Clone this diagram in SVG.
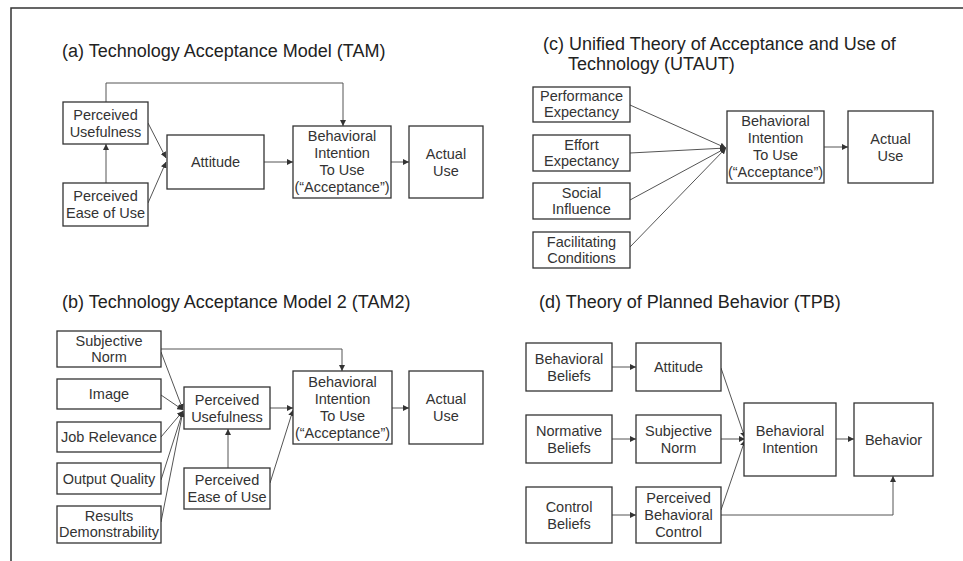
<svg xmlns="http://www.w3.org/2000/svg" width="963" height="561" viewBox="0 0 963 561">
<defs>
<style>
.bg{fill:#fff}
.frame{fill:none;stroke:#333;stroke-width:1.5}
.box{fill:#fff;stroke:#333;stroke-width:1.3}
.t{font-family:"Liberation Sans",Arial,sans-serif;font-size:14.5px;fill:#333;text-anchor:middle}
.title{font-family:"Liberation Sans",Arial,sans-serif;font-size:18px;fill:#222}
.c{fill:none;stroke:#555;stroke-width:1}
.a{marker-end:url(#arr)}
</style>
<marker id="arr" markerUnits="userSpaceOnUse" markerWidth="7" markerHeight="6" refX="6" refY="3" orient="auto">
<path d="M0,0 L6,3 L0,6 z" fill="#333"/>
</marker>
</defs>
<rect class="bg" x="0" y="0" width="963" height="561"/>
<path class="frame" d="M11,561 L11,8 L963,8"/>

<text class="title" x="62" y="57">(a) Technology Acceptance Model (TAM)</text>
<text class="title" x="543" y="50">(c) Unified Theory of Acceptance and Use of</text>
<text class="title" x="568" y="70">Technology (UTAUT)</text>
<text class="title" x="62" y="308">(b) Technology Acceptance Model 2 (TAM2)</text>
<text class="title" x="539" y="308">(d) Theory of Planned Behavior (TPB)</text>

<g id="connectors">
<!-- (a) -->
<path class="c a" d="M106,183 L106,144"/>
<path class="c a" d="M148,123 L166,158"/>
<path class="c a" d="M148,203 L166,162"/>
<path class="c a" d="M264,162 L293,162"/>
<path class="c a" d="M391,162 L409,162"/>
<path class="c a" d="M106,102 L106,83 L343,83 L343,126"/>
<!-- (c) -->
<path class="c a" d="M630,105 L726,148"/>
<path class="c a" d="M630,153 L726,148"/>
<path class="c a" d="M630,200 L726,148"/>
<path class="c a" d="M630,247 L726,148"/>
<path class="c a" d="M824,147 L848,147"/>
<!-- (b) -->
<path class="c a" d="M161,352 L183,410"/>
<path class="c a" d="M161,395 L183,410"/>
<path class="c a" d="M161,437 L183,411"/>
<path class="c a" d="M161,480 L183,411"/>
<path class="c a" d="M161,522 L183,411"/>
<path class="c a" d="M161,349 L342,349 L342,371"/>
<path class="c a" d="M270,408 L293,408"/>
<path class="c a" d="M228,468 L228,429"/>
<path class="c a" d="M270,483 L293,410"/>
<path class="c a" d="M392,408 L409,408"/>
<!-- (d) -->
<path class="c a" d="M612,367 L636,367"/>
<path class="c a" d="M612,439 L636,439"/>
<path class="c a" d="M612,515 L636,515"/>
<path class="c a" d="M721,368 L745,438"/>
<path class="c a" d="M721,439 L745,439"/>
<path class="c a" d="M721,510 L745,440"/>
<path class="c a" d="M836,439 L854,439"/>
<path class="c a" d="M721,515 L893,515 L893,476"/>
</g>

<!-- (a) nodes -->
<g id="a-pu"><rect class="box" x="63" y="102" width="85" height="42"/><text class="t"><tspan x="105.5" y="119.5">Perceived</tspan><tspan x="105.5" y="136.5">Usefulness</tspan></text></g>
<g id="a-peou"><rect class="box" x="63" y="183" width="85" height="43"/><text class="t"><tspan x="105.5" y="201">Perceived</tspan><tspan x="105.5" y="218">Ease of Use</tspan></text></g>
<g id="a-att"><rect class="box" x="167" y="135" width="97" height="54"/><text class="t" x="215.5" y="167">Attitude</text></g>
<g id="a-bi"><rect class="box" x="293" y="126" width="98" height="72"/><text class="t"><tspan x="342" y="141">Behavioral</tspan><tspan x="342" y="158">Intention</tspan><tspan x="342" y="175">To Use</tspan><tspan x="342" y="192">(“Acceptance”)</tspan></text></g>
<g id="a-au"><rect class="box" x="409" y="126" width="74" height="72"/><text class="t"><tspan x="446" y="158.5">Actual</tspan><tspan x="446" y="175.5">Use</tspan></text></g>

<!-- (c) nodes -->
<g id="c-pe"><rect class="box" x="533" y="87" width="97" height="35"/><text class="t"><tspan x="581.5" y="101">Performance</tspan><tspan x="581.5" y="117">Expectancy</tspan></text></g>
<g id="c-ee"><rect class="box" x="533" y="135" width="97" height="36"/><text class="t"><tspan x="581.5" y="149.5">Effort</tspan><tspan x="581.5" y="165.5">Expectancy</tspan></text></g>
<g id="c-si"><rect class="box" x="533" y="183" width="97" height="36"/><text class="t"><tspan x="581.5" y="197.5">Social</tspan><tspan x="581.5" y="213.5">Influence</tspan></text></g>
<g id="c-fc"><rect class="box" x="533" y="232" width="97" height="36"/><text class="t"><tspan x="581.5" y="246.5">Facilitating</tspan><tspan x="581.5" y="262.5">Conditions</tspan></text></g>
<g id="c-bi"><rect class="box" x="727" y="111" width="97" height="72"/><text class="t"><tspan x="775.5" y="126">Behavioral</tspan><tspan x="775.5" y="143">Intention</tspan><tspan x="775.5" y="160">To Use</tspan><tspan x="775.5" y="177">(“Acceptance”)</tspan></text></g>
<g id="c-au"><rect class="box" x="848" y="111" width="85" height="72"/><text class="t"><tspan x="890.5" y="143.5">Actual</tspan><tspan x="890.5" y="160.5">Use</tspan></text></g>

<!-- (b) nodes -->
<g id="b-sn"><rect class="box" x="57" y="331" width="104" height="36"/><text class="t"><tspan x="109" y="345.5">Subjective</tspan><tspan x="109" y="361.5">Norm</tspan></text></g>
<g id="b-img"><rect class="box" x="57" y="379" width="104" height="30"/><text class="t" x="109" y="399">Image</text></g>
<g id="b-jr"><rect class="box" x="57" y="422" width="104" height="30"/><text class="t" x="109" y="442">Job Relevance</text></g>
<g id="b-oq"><rect class="box" x="57" y="463" width="104" height="31"/><text class="t" x="109" y="483.5">Output Quality</text></g>
<g id="b-rd"><rect class="box" x="57" y="506" width="104" height="37"/><text class="t"><tspan x="109" y="521">Results</tspan><tspan x="109" y="537">Demonstrability</tspan></text></g>
<g id="b-pu"><rect class="box" x="184" y="387" width="86" height="42"/><text class="t"><tspan x="227" y="404.5">Perceived</tspan><tspan x="227" y="421.5">Usefulness</tspan></text></g>
<g id="b-peou"><rect class="box" x="184" y="468" width="86" height="41"/><text class="t"><tspan x="227" y="485">Perceived</tspan><tspan x="227" y="502">Ease of Use</tspan></text></g>
<g id="b-bi"><rect class="box" x="293" y="371" width="99" height="73"/><text class="t"><tspan x="342.5" y="386.5">Behavioral</tspan><tspan x="342.5" y="403.5">Intention</tspan><tspan x="342.5" y="420.5">To Use</tspan><tspan x="342.5" y="437.5">(“Acceptance”)</tspan></text></g>
<g id="b-au"><rect class="box" x="409" y="371" width="74" height="73"/><text class="t"><tspan x="446" y="404">Actual</tspan><tspan x="446" y="421">Use</tspan></text></g>

<!-- (d) nodes -->
<g id="d-bb"><rect class="box" x="526" y="343" width="86" height="48"/><text class="t"><tspan x="569" y="363.5">Behavioral</tspan><tspan x="569" y="380.5">Beliefs</tspan></text></g>
<g id="d-att"><rect class="box" x="636" y="343" width="85" height="48"/><text class="t" x="678.5" y="372">Attitude</text></g>
<g id="d-nb"><rect class="box" x="526" y="415" width="86" height="48"/><text class="t"><tspan x="569" y="435.5">Normative</tspan><tspan x="569" y="452.5">Beliefs</tspan></text></g>
<g id="d-sn"><rect class="box" x="636" y="415" width="85" height="48"/><text class="t"><tspan x="678.5" y="435.5">Subjective</tspan><tspan x="678.5" y="452.5">Norm</tspan></text></g>
<g id="d-cb"><rect class="box" x="526" y="487" width="86" height="56"/><text class="t"><tspan x="569" y="511.5">Control</tspan><tspan x="569" y="528.5">Beliefs</tspan></text></g>
<g id="d-pbc"><rect class="box" x="636" y="487" width="85" height="56"/><text class="t"><tspan x="678.5" y="503">Perceived</tspan><tspan x="678.5" y="520">Behavioral</tspan><tspan x="678.5" y="537">Control</tspan></text></g>
<g id="d-bi"><rect class="box" x="744" y="403" width="92" height="73"/><text class="t"><tspan x="790" y="436">Behavioral</tspan><tspan x="790" y="453">Intention</tspan></text></g>
<g id="d-beh"><rect class="box" x="854" y="403" width="79" height="73"/><text class="t" x="893.5" y="444.5">Behavior</text></g>
</svg>
